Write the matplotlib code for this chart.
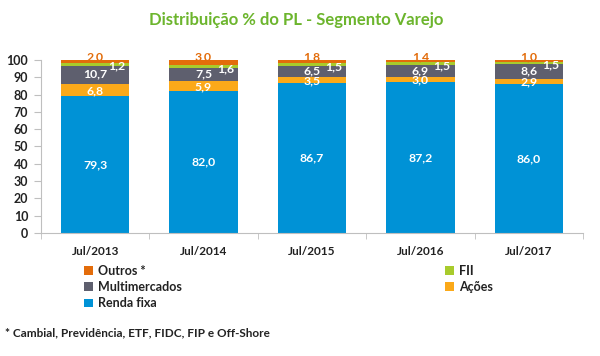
import numpy as np
import matplotlib.pyplot as plt

plt.rcParams['font.family'] = ['Lato', 'DejaVu Sans']

anos = ['Jul/2013', 'Jul/2014', 'Jul/2015', 'Jul/2016', 'Jul/2017']
renda_fixa = [79.3, 82.0, 86.7, 87.2, 86.0]
acoes = [6.8, 5.9, 3.5, 3.0, 2.9]
multimercados = [10.7, 7.5, 6.5, 6.9, 8.6]
fii = [1.2, 1.6, 1.5, 1.5, 1.5]
outros = [2.0, 3.0, 1.8, 1.4, 1.0]

c_renda = '#0092D6'
c_acoes = '#FBA919'
c_multi = '#5E5F6E'
c_fii = '#A8CB2C'
c_outros = '#E36C0A'

def fmt(v):
    return f'{v:.1f}'.replace('.', ',')

fig = plt.figure(figsize=(6, 3.56), dpi=100)
ax = fig.add_axes([0.068, 0.3455, 0.904, 0.486])

x = np.arange(len(anos))
w = 0.63
b0 = np.zeros(len(anos))
b1 = b0 + renda_fixa
b2 = b1 + acoes
b3 = b2 + multimercados
b4 = b3 + fii

h_renda = ax.bar(x, renda_fixa, w, bottom=b0, color=c_renda, label='Renda fixa')
h_acoes = ax.bar(x, acoes, w, bottom=b1, color=c_acoes, label='Ações')
h_multi = ax.bar(x, multimercados, w, bottom=b2, color=c_multi, label='Multimercados')
h_fii = ax.bar(x, fii, w, bottom=b3, color=c_fii, label='FII')
h_outros = ax.bar(x, outros, w, bottom=b4, color=c_outros, label='Outros *')

lbl = dict(color='white', fontsize=8.8, fontweight='bold', ha='center', va='center')
for i in x:
    ax.text(i, renda_fixa[i] / 2, fmt(renda_fixa[i]), **lbl)
    ax.text(i, b1[i] + acoes[i] / 2 - 0.3, fmt(acoes[i]), **lbl)
    ax.text(i, b2[i] + multimercados[i] / 2 + 0.3, fmt(multimercados[i]), **lbl)
    ax.text(i + 0.2, b3[i] - 0.4, fmt(fii[i]), **lbl)
    ax.text(i, 101.8, fmt(outros[i]), color=c_outros, fontsize=8.8,
            fontweight='bold', ha='center', va='center')

ax.set_xlim(-0.5, len(anos) - 0.5)
ax.set_ylim(0, 100)
ax.set_yticks(np.arange(0, 101, 10))
ax.set_xticks(x)
ax.set_xticklabels(anos, fontsize=8.5, fontweight='bold', color='#222222')
ax.set_xticks(np.arange(-0.5, len(anos), 1), minor=True)
ax.tick_params(axis='x', which='major', length=0, pad=9)
ax.tick_params(axis='x', which='minor', length=4, color='#BFBFBF')
ax.tick_params(axis='y', length=5, color='#BFBFBF', labelsize=9, labelcolor='#222222', pad=4)
for t in ax.get_yticklabels():
    t.set_fontweight('bold')
for s in ['top', 'right']:
    ax.spines[s].set_visible(False)
for s in ['left', 'bottom']:
    ax.spines[s].set_color('#BFBFBF')

fig.text(0.493, 0.944, 'Distribuição % do PL - Segmento Varejo', color='#6CB52D',
         fontsize=12, fontweight='bold', ha='center', va='center')

leg = fig.legend([h_outros, h_multi, h_renda, h_fii, h_acoes],
                 ['Outros *', 'Multimercados', 'Renda fixa', 'FII', 'Ações'],
                 ncol=2, loc='upper left', bbox_to_anchor=(0.14, 0.257),
                 frameon=False, fontsize=9, handlelength=0.7, handleheight=0.7,
                 handletextpad=0.4, columnspacing=21.1, labelspacing=0.35,
                 borderaxespad=0, borderpad=0)
for t in leg.get_texts():
    t.set_fontweight('bold')
    t.set_color('#222222')

fig.text(0.008, 0.065, '* Cambial, Previdência, ETF, FIDC, FIP e Off-Shore', fontsize=8.5,
         fontweight='bold', color='#222222', ha='left', va='center')

fig.savefig('out.png', dpi=100)
